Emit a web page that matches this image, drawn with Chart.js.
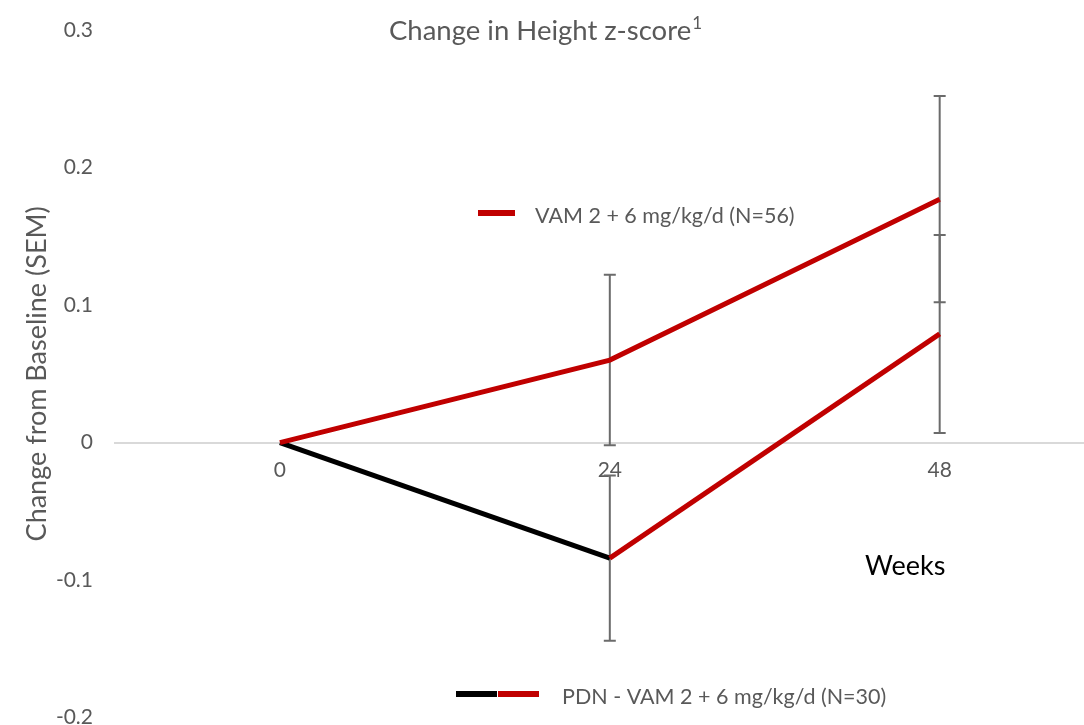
<!DOCTYPE html>
<html>
<head>
<meta charset="utf-8">
<script src="https://cdn.jsdelivr.net/npm/chart.js@4/dist/chart.umd.min.js"></script>
<style>
  html, body { margin: 0; padding: 0; background: #fff; overflow: hidden; }
  #wrap { width: 1084px; height: 725px; position: relative; }
</style>
</head>
<body>
<div id="wrap"><canvas id="c"></canvas></div>
<script>
// Visit weeks (x positions)
const weeks = [0, 24, 48];

// VAM 2 + 6 mg/kg/d arm: mean change and SEM
const vamLabel = 'VAM 2 + 6 mg/kg/d (N=56)';
const vamMean = [0, 0.060, 0.177];
const vamSem  = [0, 0.062, 0.075];

// PDN then VAM arm: mean change and SEM
const pdnLabel = 'PDN - VAM 2 + 6 mg/kg/d (N=30)';
const pdnMean = [0, -0.084, 0.079];
const pdnSem  = [0, 0.060, 0.072];

// Axis ticks
const yTicks = [-0.2, -0.1, 0, 0.1, 0.2, 0.3];
const xTicks = weeks;

const RED = '#c00000';
const BLACK = '#000000';
const GREY_TEXT = '#595959';
const FONT = 'Lato, Carlito, Calibri, "Open Sans", sans-serif';

const toPoints = (means) => weeks.map((w, i) => ({ x: w, y: means[i] }));

// Vertical SEM bars with caps, drawn under the lines
const errorBars = {
  id: 'errorBars',
  beforeDatasetsDraw(chart) {
    const { ctx, scales: { x, y } } = chart;
    ctx.save();
    ctx.strokeStyle = '#6b6b6b';
    ctx.lineWidth = 2;
    chart.data.datasets.forEach(ds => {
      ds.sem.forEach((s, i) => {
        if (!s) return;
        const px = x.getPixelForValue(ds.data[i].x);
        const top = y.getPixelForValue(ds.data[i].y + s);
        const bot = y.getPixelForValue(ds.data[i].y - s);
        ctx.beginPath();
        ctx.moveTo(px, top); ctx.lineTo(px, bot);
        ctx.moveTo(px - 6, top); ctx.lineTo(px + 6, top);
        ctx.moveTo(px - 6, bot); ctx.lineTo(px + 6, bot);
        ctx.stroke();
      });
    });
    ctx.restore();
  }
};

// Title, x-axis caption and the two floating legend entries
const annotations = {
  id: 'annotations',
  afterDraw(chart) {
    const { ctx } = chart;
    ctx.save();
    ctx.textBaseline = 'middle';

    // Title with superscript
    ctx.fillStyle = GREY_TEXT;
    ctx.font = '27.5px ' + FONT;
    const title = 'Change in Height z-score';
    const tw = ctx.measureText(title).width;
    ctx.font = '17px ' + FONT;
    const sw = ctx.measureText('1').width;
    const tx = 545 - (tw + sw) / 2;
    ctx.font = '27.5px ' + FONT;
    ctx.textAlign = 'left';
    ctx.fillText(title, tx, 31);
    ctx.font = '17px ' + FONT;
    ctx.fillText('1', tx + tw + 1, 24);

    // Axis caption
    ctx.fillStyle = '#000';
    ctx.font = '27px ' + FONT;
    ctx.fillText('Weeks', 865, 566);

    // Legend entries
    ctx.lineWidth = 6;
    ctx.lineCap = 'butt';
    ctx.strokeStyle = RED;
    ctx.beginPath(); ctx.moveTo(478, 213); ctx.lineTo(515, 213); ctx.stroke();
    ctx.fillStyle = GREY_TEXT;
    ctx.font = '21.5px ' + FONT;
    ctx.fillText(chart.data.datasets[0].label, 535, 216);

    ctx.strokeStyle = BLACK;
    ctx.beginPath(); ctx.moveTo(456, 694); ctx.lineTo(497, 694); ctx.stroke();
    ctx.strokeStyle = RED;
    ctx.beginPath(); ctx.moveTo(498, 694); ctx.lineTo(539, 694); ctx.stroke();
    ctx.fillText(chart.data.datasets[1].label, 562, 697);

    ctx.restore();
  }
};

new Chart(document.getElementById('c'), {
  type: 'line',
  data: {
    datasets: [
      {
        label: vamLabel,
        data: toPoints(vamMean),
        sem: vamSem,
        borderColor: RED,
        borderWidth: 5,
        pointRadius: 0,
        tension: 0
      },
      {
        label: pdnLabel,
        data: toPoints(pdnMean),
        sem: pdnSem,
        borderColor: RED,
        borderWidth: 5,
        pointRadius: 0,
        tension: 0,
        segment: {
          borderColor: c => c.p0DataIndex === 0 ? BLACK : RED
        }
      }
    ]
  },
  options: {
    responsive: true,
    maintainAspectRatio: false,
    animation: false,
    layout: { padding: { top: 30, bottom: 7, left: 0, right: 0 } },
    plugins: {
      legend: { display: false },
      title: { display: false },
      tooltip: { enabled: false }
    },
    scales: {
      x: {
        type: 'linear',
        position: { y: 0 },
        min: -12,
        max: 58.5,
        afterBuildTicks: s => { s.ticks = xTicks.map(v => ({ value: v })); },
        afterFit: s => { s.height = 0; },
        grid: { display: false, drawTicks: false },
        border: { display: true, color: '#d9d9d9', width: 2 },
        ticks: {
          color: GREY_TEXT,
          font: { family: FONT, size: 21 },
          padding: 15,
          maxRotation: 0,
          callback: v => String(v)
        }
      },
      y: {
        type: 'linear',
        min: -0.2,
        max: 0.3,
        afterBuildTicks: s => { s.ticks = yTicks.map(v => ({ value: v })); },
        afterFit: s => { s.width = 115; },
        // invisible tick marks keep the labels clear of the plot edge
        grid: {
          display: true,
          drawOnChartArea: false,
          drawTicks: true,
          tickLength: 22,
          tickColor: 'rgba(0,0,0,0)'
        },
        border: { display: false },
        ticks: {
          color: GREY_TEXT,
          font: { family: FONT, size: 21, lineHeight: 0.7 },
          padding: 0,
          callback: v => String(Math.round(v * 10) / 10)
        },
        title: {
          display: true,
          text: 'Change from Baseline (SEM)',
          color: GREY_TEXT,
          font: { family: FONT, size: 27 },
          padding: { top: 21, bottom: 0 }
        }
      }
    }
  },
  plugins: [errorBars, annotations]
});
</script>
</body>
</html>
